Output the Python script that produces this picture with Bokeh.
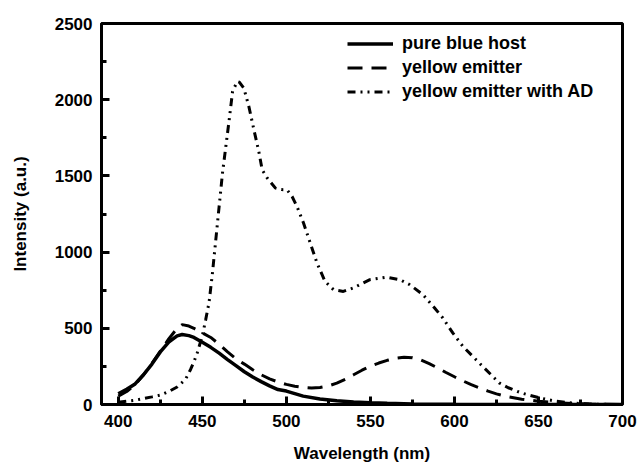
from bokeh.plotting import figure
from bokeh.models import FixedTicker, Legend, LegendItem, Range1d
from bokeh.embed import file_html
from bokeh.resources import INLINE

# pure blue host
host_wl = [400, 405, 410, 415, 420, 425, 430, 435, 438, 442, 445, 450, 455, 460, 465, 470,
           475, 480, 485, 490, 495, 500, 510, 520, 530, 540, 550, 560, 575, 600, 650, 700]
host_int = [70, 100, 135, 195, 265, 345, 410, 450, 459, 452, 440, 408, 375, 337, 295, 255,
            215, 180, 150, 122, 98, 88, 55, 36, 25, 17, 12, 8, 4, 2, 0, 0]

# yellow emitter
ye_wl = [400, 405, 410, 415, 420, 425, 430, 435, 438, 442, 445, 450, 455, 460, 465, 470, 475,
         480, 485, 490, 495, 500, 505, 510, 515, 520, 525, 530, 535, 540, 545, 550, 555, 560,
         565, 570, 575, 580, 585, 590, 595, 600, 605, 610, 615, 620, 625, 630, 640, 650, 660,
         670, 680, 700]
ye_int = [55, 85, 130, 195, 270, 350, 430, 500, 524, 515, 500, 470, 440, 395, 345, 300, 265,
          228, 195, 168, 148, 132, 120, 112, 108, 112, 122, 140, 165, 195, 225, 252, 272, 290,
          303, 310, 307, 292, 268, 240, 210, 182, 155, 130, 108, 88, 70, 55, 35, 22, 12,
          6, 3, 0]

# yellow emitter with AD
ad_wl = [400, 410, 420, 425, 430, 435, 440, 443, 445, 447, 450, 452, 454, 456, 458, 460, 462,
         464, 466, 468, 470.8, 472, 474.7, 477.7, 480.7, 483.6, 485.6, 488.6, 493.5, 497, 500.4,
         503.4, 506.3, 510.2, 514.2, 518.2, 523, 528, 533.9, 539.8, 549.7, 559.6, 567.5, 573.4,
         581.3, 588.2, 593.1, 599, 605, 610.8, 616.7, 622.7, 626.6, 632, 640, 650, 660, 670,
         680, 690, 700]
ad_int = [15, 28, 50, 62, 85, 115, 165, 230, 280, 340, 450, 557, 670, 860, 1080, 1300, 1520,
          1695, 1870, 2055, 2120, 2115, 2075, 1955, 1802, 1660, 1540, 1486, 1420, 1410, 1409,
          1365, 1300, 1191, 1060, 929, 808, 754, 742, 765, 819, 836, 819, 786,
          721, 633, 568, 470, 382, 317, 251, 185, 142, 110, 75, 45, 22, 10,
          3, 1, 0]

x_major = [400, 450, 500, 550, 600, 650, 700]
x_minor = [425, 475, 525, 575, 625, 675]
y_major = [0, 500, 1000, 1500, 2000, 2500]
y_minor = [250, 750, 1250, 1750, 2250]

FONT = "Liberation Sans"

p = figure(width=638, height=465, output_backend="svg", toolbar_location=None,
           x_range=Range1d(390, 700), y_range=Range1d(0, 2500),
           min_border_left=101, min_border_right=16, min_border_top=23, min_border_bottom=60)
p.background_fill_color = "white"
p.border_fill_color = "white"
p.grid.visible = False
p.outline_line_color = "black"
p.outline_line_width = 3
p.outline_line_alpha = 1

p.xaxis.ticker = FixedTicker(ticks=x_major, minor_ticks=x_minor)
p.yaxis.ticker = FixedTicker(ticks=y_major, minor_ticks=y_minor)
for ax in (p.xaxis, p.yaxis):
    ax.axis_line_width = 3
    ax.axis_line_color = "black"
    ax.major_tick_in = 8
    ax.major_tick_out = 0
    ax.minor_tick_in = 5
    ax.minor_tick_out = 0
    ax.major_tick_line_width = 3
    ax.minor_tick_line_width = 3
    ax.major_tick_line_color = "black"
    ax.minor_tick_line_color = "black"
    ax.major_label_text_font = FONT
    ax.major_label_text_font_style = "bold"
    ax.major_label_text_font_size = "17px"
    ax.major_label_text_color = "black"
    ax.axis_label_text_font = FONT
    ax.axis_label_text_font_style = "bold"
    ax.axis_label_text_font_size = "17px"
    ax.axis_label_text_color = "black"
p.xaxis.axis_label = "Wavelength (nm)"
p.yaxis.axis_label = "Intensity (a.u.)"
p.xaxis.major_label_standoff = 10
p.yaxis.major_label_standoff = 9
p.xaxis.axis_label_standoff = 14
p.yaxis.axis_label_standoff = 22

r1 = p.line(host_wl, host_int, line_color="black", line_width=3.5)
r2 = p.line(ye_wl, ye_int, line_color="black", line_width=3, line_dash="15 9")
r3 = p.line(ad_wl, ad_int, line_color="black", line_width=3, line_dash="8 5 2 5 2 5")

legend = Legend(items=[LegendItem(label="pure blue host", renderers=[r1]),
                       LegendItem(label="yellow emitter", renderers=[r2]),
                       LegendItem(label="yellow emitter with AD", renderers=[r3])],
                location=(246, 302))
legend.border_line_color = None
legend.background_fill_alpha = 0
legend.padding = 0
legend.margin = 0
legend.spacing = 3
legend.label_height = 21
legend.glyph_height = 21
legend.glyph_width = 46
legend.label_standoff = 9
legend.label_text_font = FONT
legend.label_text_font_style = "bold"
legend.label_text_font_size = "18px"
legend.label_text_color = "black"
p.add_layout(legend)

open("out.html", "w").write(file_html(p, INLINE))
